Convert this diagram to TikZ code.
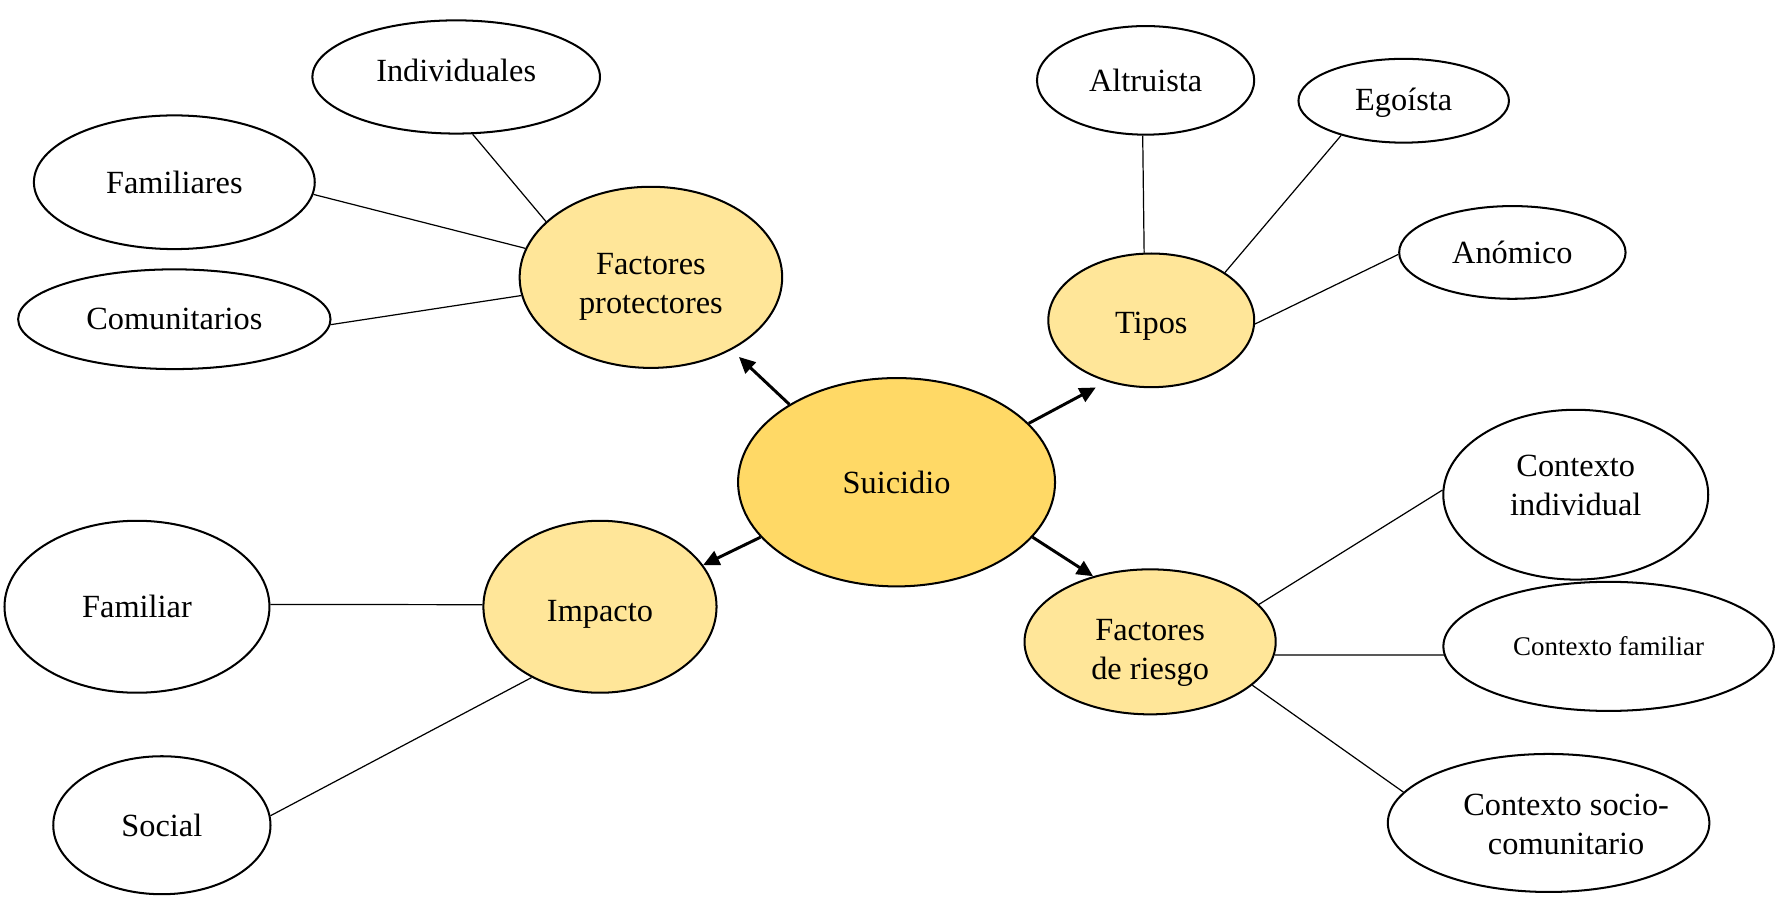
\documentclass[tikz,border=0pt]{standalone}
\usepackage{fontspec}
\setmainfont{Liberation Serif}
\usetikzlibrary{arrows.meta,shapes.geometric}
\definecolor{goldA}{HTML}{FFD966}
\definecolor{goldB}{HTML}{FFE699}
\newcommand{\mvtxt}[3]{\raisebox{#2}[\height][\depth]{\kern#1\relax#3\kern-#1\relax}}
\newcommand{\twol}[2]{\begin{tabular}{@{}c@{}}#1\\#2\end{tabular}}
\begin{document}
\begin{tikzpicture}[x=0.42pt,y=-0.42pt,
  ell/.style={ellipse,draw=black,line width=0.75pt,inner sep=0pt,align=center,
    font=\fontsize{12}{14.5}\selectfont},
  mainnode/.style={ell,fill=goldA},
  subnode/.style={ell,fill=goldB},
  leaf/.style={ell,fill=white},
  thin/.style={line width=0.45pt},
  arr/.style={line width=1.1pt,-{Triangle[length=6pt,width=5.6pt]}}]
\useasboundingbox (0,0) rectangle (1568,793);
% main
\node[mainnode,minimum width=117.6pt,minimum height=77.3pt] (suic) at (792,426) {Suicidio};
% second level
\node[subnode,minimum width=97.4pt,minimum height=67.2pt] (fp) at (575,245) {\mvtxt{0pt}{-3.4pt}{\twol{Factores}{protectores}}};
\node[subnode,minimum width=76.4pt,minimum height=49.6pt] (tipos) at (1017,283) {\mvtxt{0pt}{-2pt}{Tipos}};
\node[subnode,minimum width=86.5pt,minimum height=63.8pt] (imp) at (530,536) {\mvtxt{0pt}{-3pt}{Impacto}};
\node[subnode,minimum width=93.2pt,minimum height=53.8pt] (fr) at (1016,567) {\mvtxt{0pt}{-4pt}{\twol{Factores}{de riesgo}}};
% leaves
\node[leaf,minimum width=106.7pt,minimum height=42pt] (ind) at (403,68) {\mvtxt{0pt}{2.5pt}{Individuales}};
\node[leaf,minimum width=104.2pt,minimum height=49.6pt] (fam) at (154,161) {Familiares};
\node[leaf,minimum width=115.9pt,minimum height=37pt] (com) at (154,282) {Comunitarios};
\node[leaf,minimum width=80.6pt,minimum height=40.3pt] (alt) at (1012,71) {Altruista};
\node[leaf,minimum width=78.1pt,minimum height=31.1pt] (ego) at (1240,89) {\mvtxt{0pt}{-0.8pt}{Egoísta}};
\node[leaf,minimum width=84pt,minimum height=34.4pt] (ano) at (1336,223) {Anómico};
\node[leaf,minimum width=98.3pt,minimum height=63pt] (cind) at (1392,437) {\mvtxt{0pt}{2.3pt}{\twol{Contexto}{individual}}};
\node[leaf,minimum width=122.6pt,minimum height=47.9pt,font=\fontsize{10}{12}\selectfont] (cfam) at (1421,571) {Contexto familiar};
\node[leaf,minimum width=119.3pt,minimum height=51.2pt] (csoc) at (1368,727) {\mvtxt{6.5pt}{-1.6pt}{\twol{Contexto socio-}{comunitario}}};
\node[leaf,minimum width=98.3pt,minimum height=63.8pt] (famr) at (121,536) {Familiar};
\node[leaf,minimum width=80.6pt,minimum height=51.2pt] (soc) at (143,729) {Social};
% thin connectors
\draw[thin] (ind.-74) -- (fp.152.5);
\draw[thin] (fam.-5) -- (fp.167);
\draw[thin] (com.-2.5) -- (fp.188.4);
\draw[thin] (alt.-93.5) -- (tipos.96.8);
\draw[thin] (ego.209.4) -- (tipos.33.9);
\draw[thin] (ano.181) -- (tipos.-2.5);
\draw[thin] (cind.178) -- (fr.19.7);
\draw[thin] (cfam.183.1) -- (fr.-6.1);
\draw[thin] (csoc.168.7) -- (fr.-23.5);
\draw[thin] (famr.1) -- (imp.179);
\draw[thin] (soc.5.4) -- (imp.226.8);
% arrows
\draw[arr,shorten >=3.8pt] (suic.144.4) -- (fp.-42);
\draw[arr,shorten >=4.6pt] (suic.24.8) -- (tipos.234.9);
\draw[arr] (suic.202.3) -- (imp.22.4);
\draw[arr] (suic.-22.7) -- (fr.131);
\end{tikzpicture}
\end{document}
